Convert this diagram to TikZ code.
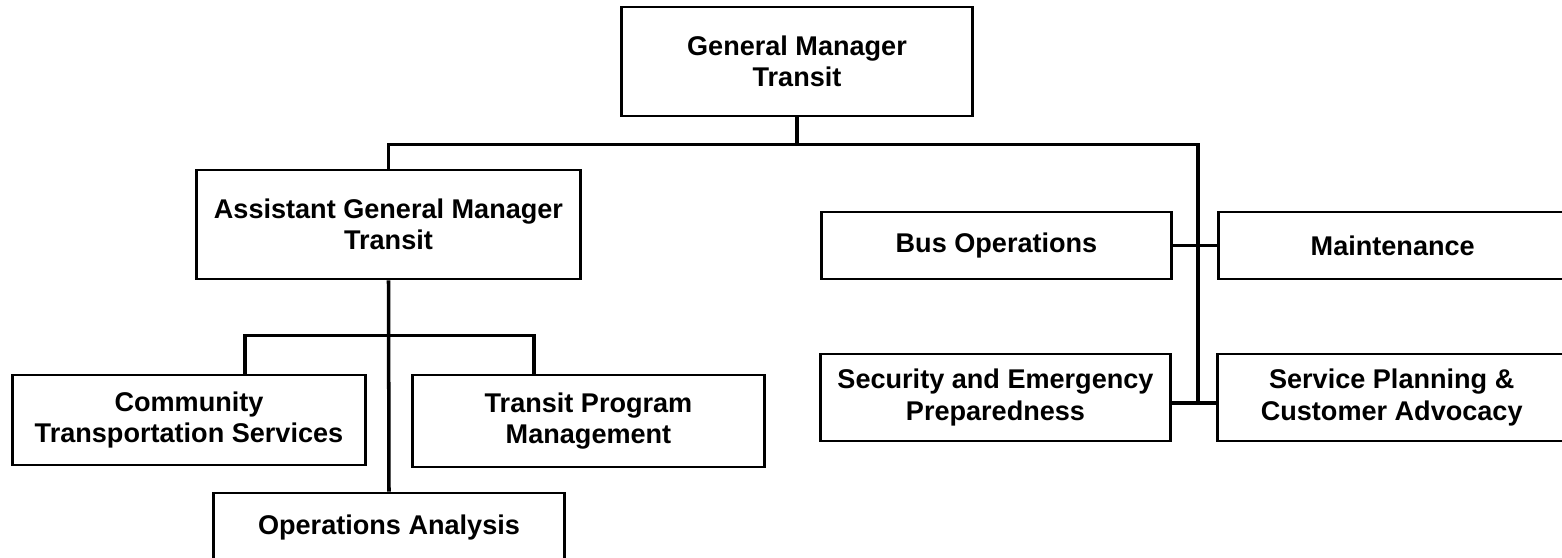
\documentclass[tikz,border=0pt]{standalone}
\usepackage{fontspec}
\setmainfont{Liberation Sans}
\usetikzlibrary{calc}

\begin{document}
\begin{tikzpicture}[x=0.01cm,y=-0.01cm,-,line width=1pt,node distance=3.96cm,main node/.style={rectangle,draw,line width=0.8pt,align=center,inner sep=0pt,minimum width=3.5cm,font=\bfseries\fontsize{7.7}{9}\selectfont}]

    \useasboundingbox (0,0) rectangle (1562,558);

    \node (1) at (797,61.5) [main node, minimum height=1.09cm]{General Manager\\Transit};

    \node (2) at ($(1)+(-408.5,163)$) [main node, minimum width=3.83cm, minimum height=1.09cm]{Assistant General Manager\\Transit};

    \node (3) at ($(2)+(-199.5,195.5)$) [main node, minimum width=3.52cm, minimum height=0.9cm]{Community\\Transportation Services};
    \node (4) at ($(2)+(200,196.5)$) [main node, minimum width=3.51cm, minimum height=0.92cm]{Transit Program\\Management};
    \node (5) at ($(2)+(0.5,303.5)$) [main node, minimum height=0.7cm]{Operations Analysis};

    \node (6) at ($(1)+(199.5,184)$) [main node, minimum width=3.49cm, minimum height=0.67cm]{Bus Operations};
    \node (7) [right of=6, main node, minimum width=3.49cm, minimum height=0.67cm]{Maintenance};

    \node (8) at ($(6)+(-1,152)$) [main node, minimum width=3.49cm, minimum height=0.87cm]{Security and Emergency\\Preparedness};
    \node (9) [right of=8, main node, minimum width=3.49cm, minimum height=0.87cm]{Service Planning \&\\Customer Advocacy};

    % junctions
    \coordinate (j1) at ($(1.south)+(0,27)$);
    \coordinate (j2) at (1198,403);
    \coordinate (j3) at ($(2.south)+(0,55)$);
    \coordinate (c3) at ($(3.north)+(56,0)$);
    \coordinate (c4) at ($(4.north)+(-54.5,0)$);

    \draw (1.south) -- (j1);
    \draw (2.north) |- (j1) -| (j2);
    \draw (6.east) -- (7.west);
    \draw (8.east |- j2) -- (9.west |- j2);

    \draw (2.south) -- (5.north);
    \draw (c3) |- (j3) -| (c4);
\end{tikzpicture}
\end{document}
